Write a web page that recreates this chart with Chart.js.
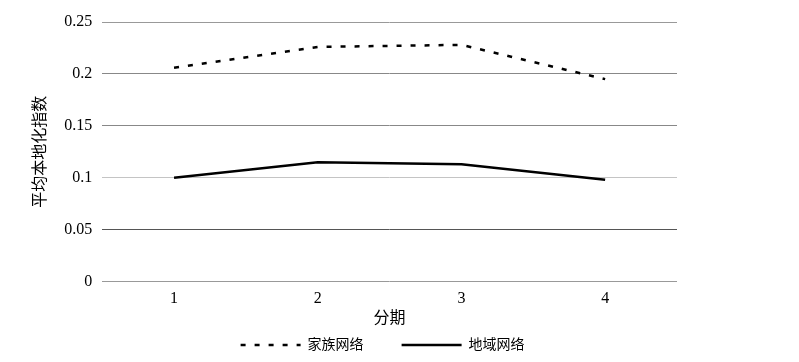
<!DOCTYPE html>
<html>
<head>
<meta charset="utf-8">
<script src="https://cdn.jsdelivr.net/npm/chart.js@4"></script>
<style>
body { margin: 0; background: #fff; }
#wrap { width: 799px; height: 362px; }
</style>
</head>
<body>
<div id="wrap"><canvas id="graf_local"></canvas></div>
<script>
const periodos = ['1', '2', '3', '4'];
const familia = [0.206, 0.226, 0.228, 0.195];
const region = [0.100, 0.115, 0.113, 0.098];
// gris de cada linea horizontal, de 0 a 0.25
const gris_lineas = ['#999', '#555', '#c4c4c4', '#888', '#888', '#999'];

const fuente = "'Liberation Serif', 'Noto Sans CJK SC', serif";

const ctx_local = document.getElementById("graf_local").getContext("2d");
const graf_local = new Chart(ctx_local, {
type: 'line',
data: {
labels: periodos,
datasets: [{
    label: '家族网络',
    data: familia,
    borderColor: '#000',
    backgroundColor: '#000',
    borderWidth: 2.5,
    borderDash: [5, 9],
    pointRadius: 0,
    tension: 0
}, {
    label: '地域网络',
    data: region,
    borderColor: '#000',
    backgroundColor: '#000',
    borderWidth: 2.5,
    pointRadius: 0,
    tension: 0
}]
},
options: {
responsive: true,
maintainAspectRatio: false,
animation: false,
layout: {
    padding: { left: 31, right: 122, top: 22, bottom: 0 }
},
plugins: {
    legend: {
        position: 'bottom',
        fullSize: false,
        labels: {
            usePointStyle: true,
            pointStyle: 'line',
            pointStyleWidth: 60,
            color: '#000',
            padding: 10,
            font: { family: fuente, size: 14 },
            generateLabels: function (chart) {
                return chart.data.datasets.map(function (ds, i) {
                    return {
                        text: i === 0 ? ds.label + '\u2002\u2002\u2002\u2002' : ds.label + '\u2003',
                        datasetIndex: i,
                        pointStyle: 'line',
                        strokeStyle: '#000',
                        fillStyle: '#000',
                        fontColor: '#000',
                        lineWidth: 2.5,
                        lineDash: ds.borderDash || [],
                        hidden: false
                    };
                });
            }
        }
    },
    tooltip: { enabled: false }
},
scales: {
    x: {
        offset: true,
        grid: { display: false, drawTicks: false },
        border: { display: false },
        ticks: { color: '#000', padding: 8, font: { family: fuente, size: 16 } },
        title: { display: true, text: '分期', color: '#000', padding: { top: -8, bottom: 0 }, font: { family: fuente, size: 16 } }
    },
    y: {
        min: 0,
        max: 0.25,
        ticks: {
            stepSize: 0.05,
            color: '#000',
            padding: 10,
            font: { family: fuente, size: 16 },
            callback: function (v) { return parseFloat(v.toFixed(2)); }
        },
        grid: {
            color: function (c) { return gris_lineas[c.index] || '#888'; },
            drawTicks: false,
            lineWidth: 1
        },
        border: { display: false },
        title: { display: true, text: '平均本地化指数', color: '#000', padding: { top: 0, bottom: 4 }, font: { family: fuente, size: 16 } }
    }
}
}
}
);
</script>
</body>
</html>
